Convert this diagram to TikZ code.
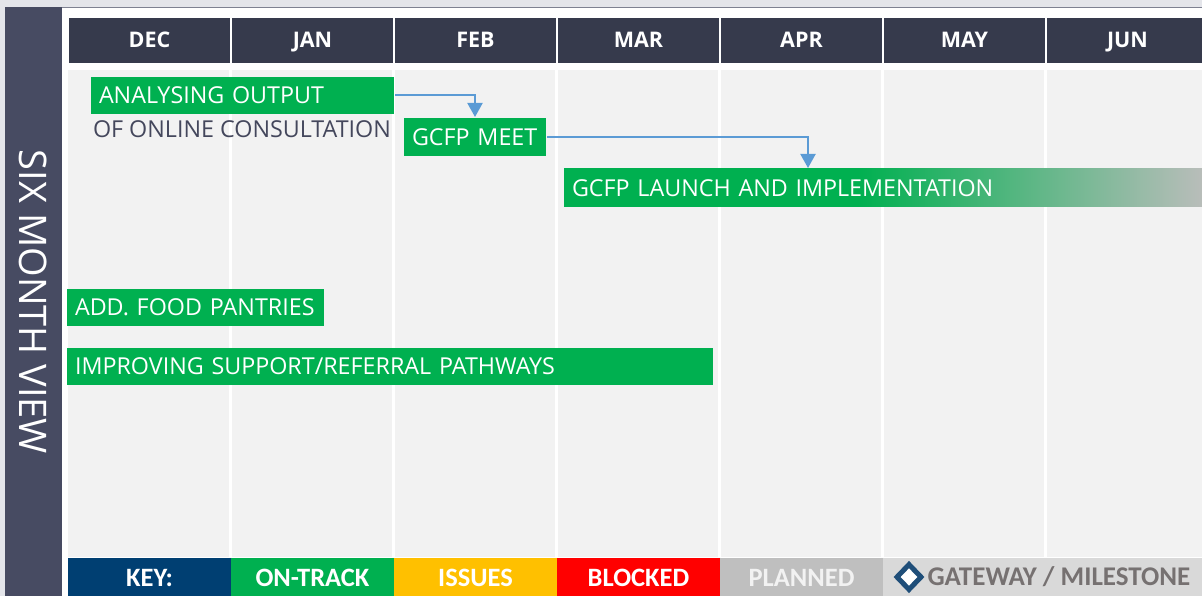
\documentclass[tikz,border=0pt]{standalone}
\usepackage{fontspec}
\setmainfont{Open Sans}
\newfontfamily\keyfont{Carlito}
\usetikzlibrary{arrows.meta, positioning, shapes.geometric}
\definecolor{framegray}{HTML}{E4E5EA}
\definecolor{sidegray}{HTML}{474B62}
\definecolor{headgray}{HTML}{363A4C}
\definecolor{chartgray}{HTML}{F2F2F2}
\definecolor{ontrack}{HTML}{00B050}
\definecolor{keynavy}{HTML}{003F72}
\definecolor{issues}{HTML}{FFC000}
\definecolor{blocked}{HTML}{FF0000}
\definecolor{planned}{HTML}{BFBFBF}
\definecolor{gateway}{HTML}{D9D9D9}
\definecolor{linkblue}{HTML}{5B9BD5}
\definecolor{fadegray}{HTML}{B9BDBA}
\definecolor{subtext}{HTML}{44475C}
\definecolor{gatetext}{HTML}{767171}
\definecolor{gemblue}{HTML}{1F4E79}
\pgfdeclarehorizontalshading{fadebar}{100bp}{color(0bp)=(ontrack); color(48bp)=(ontrack);
  color(75bp)=(fadegray); color(100bp)=(fadegray)}

\begin{document}
\begin{tikzpicture}[x=1pt,y=-1pt,>={Triangle[width=15pt,length=14pt]},
                    line width=2pt]
  \tikzstyle{month}=[anchor=north west,fill=headgray,text=white,minimum width=161pt,
                     minimum height=45pt,inner sep=0pt,text height=15pt,text depth=0pt,
                     font=\fontsize{21.5}{21.5}\selectfont\bfseries]
  \tikzstyle{bar}=[anchor=north west,fill=ontrack,text=white,align=left,inner xsep=8pt,
                   minimum height=37pt,font=\fontsize{23.3}{23.3}\selectfont]
  \tikzstyle{keycell}=[anchor=north west,minimum width=163pt,minimum height=39pt,inner sep=0pt,
                       font=\keyfont\fontsize{26.5}{26.5}\selectfont\bfseries]
  \tikzstyle{link}=[->,draw=linkblue]
  \clip (0,0) rectangle (1202,596);

  % frame and sidebar
  \fill[framegray] (0,0) rectangle (1202,596);
  \fill[white] (62,8) rectangle (1202,596);
  \draw[sidegray!70,line width=1pt] (62,8) -- (1202,8);
  \fill[sidegray] (5,7) rectangle (62,596);
  \node[rotate=-90,text=white,font=\fontsize{38}{38}\selectfont] (sidetitle) at (33,302) {SIX MONTH VIEW};

  % chart area
  \fill[chartgray] (68,70) rectangle (1202,557);
  \foreach \i in {0,...,5}
    \fill[white] (229+163*\i,70) rectangle (232+163*\i,557);

  % months
  \foreach \m/\name [count=\i from 0] in {DEC/dec,JAN/jan,FEB/feb,MAR/mar,APR/apr,MAY/may,JUN/jun}
    \node[month] (\name) at (68+163*\i,17) {\m};

  % bars
  \node[bar,text width=287pt] (analysing) at (90,76) {ANALYSING OUTPUT};
  \node[anchor=west,inner sep=0pt,text=subtext,font=\fontsize{23.3}{23.3}\selectfont]
       (consult) at (92,129) {OF ONLINE CONSULTATION};
  \node[bar,text width=126pt,minimum height=38pt] (meet) at (403,117) {GCFP MEET};
  \node[bar,text width=623pt,minimum height=38pt,shading=fadebar]
       (launch) at (563,168) {GCFP LAUNCH AND IMPLEMENTATION};
  \node[bar,text width=241pt] (pantries) at (66,288) {ADD. FOOD PANTRIES};
  \node[bar,text width=630pt] (pathways) at (66,347) {IMPROVING SUPPORT/REFERRAL PATHWAYS};

  \draw[link] (analysing.east) -| (meet.north);
  \draw[link] (meet.east) -| ([xshift=245pt]launch.north west);

  % key
  \foreach \txt/\col/\tc/\name [count=\i from 0] in
      {KEY:/keynavy/white/keyhead, ON-TRACK/ontrack/white/keyon,
       ISSUES/issues/white/keyissue, BLOCKED/blocked/white/keyblock,
       PLANNED/planned/chartgray/keyplan}
    \node[keycell,fill=\col,text=\tc] (\name) at (67+163*\i,557) {\txt};
  \node[keycell,fill=gateway,minimum width=320pt] (keygate) at (882,557) {};
  \node[diamond,draw=gemblue,fill=white,line width=5pt,minimum width=26pt,
        minimum height=27pt,inner sep=0pt] (gem) at (909,577) {};
  \node[right=2pt of gem,inner sep=0pt,text=gatetext,
        font=\keyfont\fontsize{27}{27}\selectfont\bfseries] (gatelabel) {GATEWAY / MILESTONE};
\end{tikzpicture}
\end{document}
